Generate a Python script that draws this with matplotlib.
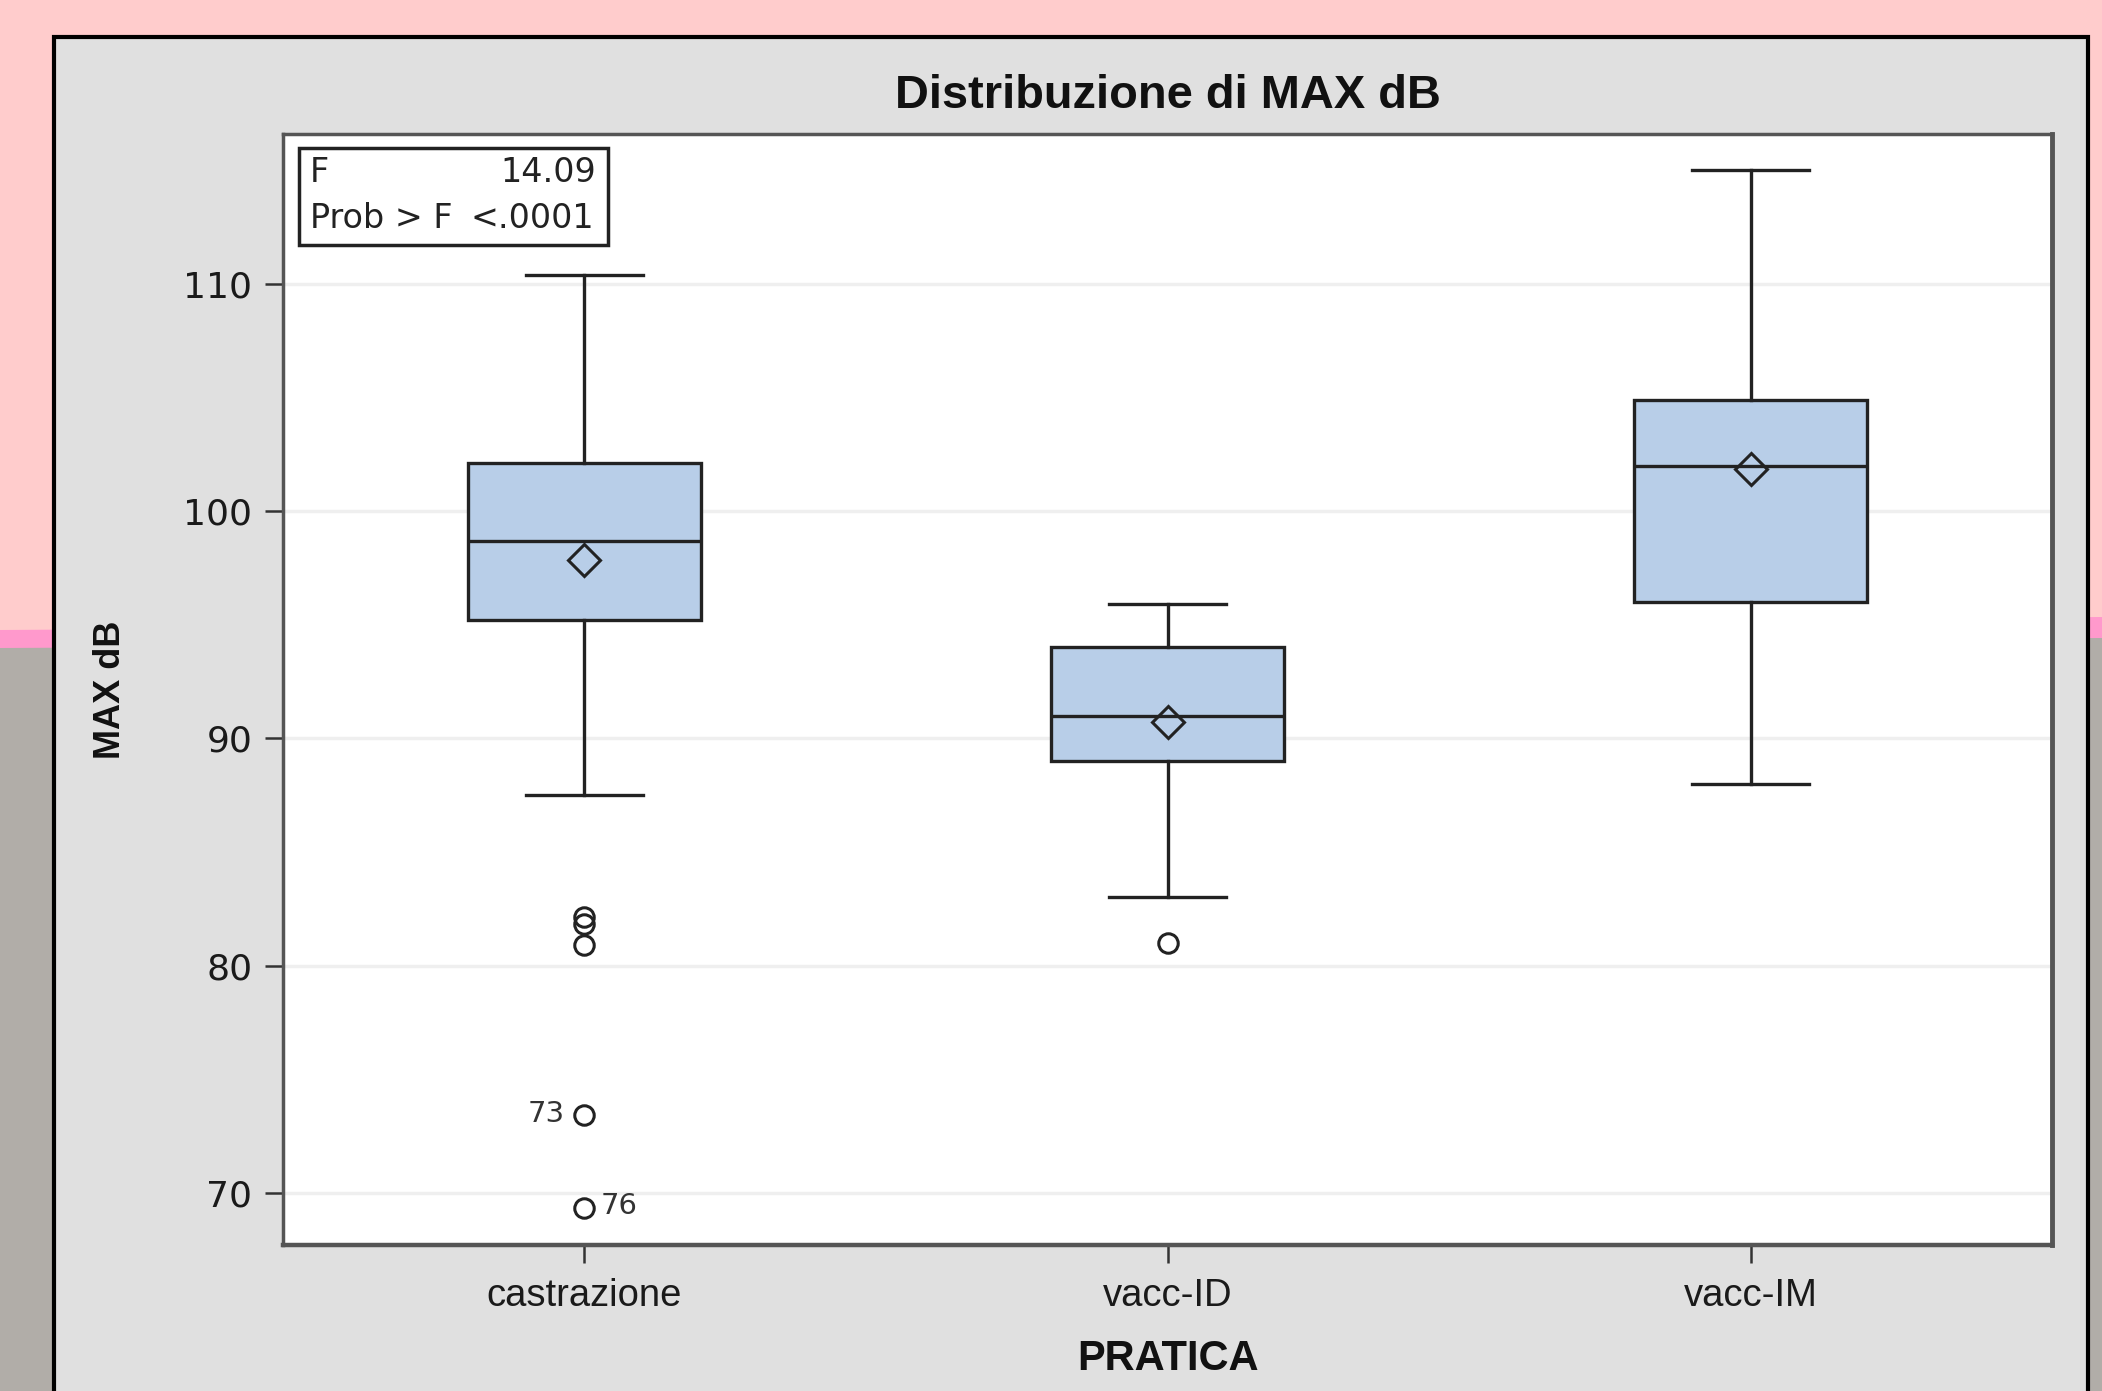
"""Box plot of MAX dB by PRATICA (SAS-style output on a slide background)."""

import matplotlib
matplotlib.use("Agg")
import matplotlib.pyplot as plt
from matplotlib.patches import Rectangle, Polygon

plt.rcParams["font.family"] = ["Liberation Sans", "DejaVu Sans"]
NUM_FONT = ["DejaVu Sans"]  # the SAS digits are wide, DejaVu fits them better

# ---- data ----
CATEGORIES = ["castrazione", "vacc-ID", "vacc-IM"]
WHIS_LO = [87.5, 83.0, 88.0]
Q1 = [95.2, 89.0, 96.0]
MEDIAN = [98.7, 91.0, 102.0]
Q3 = [102.1, 94.0, 104.9]
WHIS_HI = [110.4, 95.9, 115.0]
MEAN = [97.85, 90.7, 101.85]
OUTLIERS = [[82.15, 81.85, 80.9, 73.4, 69.35], [81.0], []]

# labelled outliers: group index, value, label, side
LABEL_GROUP = [0, 0]
LABEL_VALUE = [73.4, 69.35]
LABEL_TEXT = ["73", "76"]
LABEL_SIDE = ["left", "right"]

Y_TICKS = [70, 80, 90, 100, 110]
F_VALUE = "14.09"
P_VALUE = "<.0001"

W, H = 2102, 1391


def px(x0, y0):
    """pixel (from top-left) -> figure fraction"""
    return x0 / W, 1 - y0 / H


def main():
    fig = plt.figure(figsize=(W / 100, H / 100), dpi=100, facecolor="#FFCCCC")

    # slide background: pink stripe and grey lower region
    stripe = Polygon([px(0, 630), px(W, 617), px(W, 640), px(0, 650)],
                     closed=True, transform=fig.transFigure,
                     facecolor="#FF99CC", edgecolor="none", zorder=-3)
    grey = Polygon([px(0, 648), px(W, 638), px(W, H), px(0, H)],
                   closed=True, transform=fig.transFigure,
                   facecolor="#B1ADA8", edgecolor="none", zorder=-3)
    fig.patches.extend([stripe, grey])

    # SAS output panel
    x0, y0 = px(54, 37)
    x1, _ = px(2088, 0)
    panel = Rectangle((x0, -0.02), x1 - x0, y0 + 0.02,
                      transform=fig.transFigure, facecolor="#E0E0E0",
                      edgecolor="black", linewidth=3, zorder=-2)
    fig.patches.append(panel)

    ax = fig.add_axes([283 / W, 1 - 1245 / H, (2052 - 283) / W, (1245 - 134) / H])
    ax.set_zorder(5)
    ax.set_facecolor("white")

    stats = []
    for i, name in enumerate(CATEGORIES):
        stats.append({
            "label": name, "whislo": WHIS_LO[i], "q1": Q1[i], "med": MEDIAN[i],
            "q3": Q3[i], "whishi": WHIS_HI[i], "mean": MEAN[i],
            "fliers": OUTLIERS[i],
        })

    line = dict(color="#222222", linewidth=2.4)
    ax.bxp(stats, positions=[1, 2, 3], widths=0.4, capwidths=0.2,
           patch_artist=True, showmeans=True, showfliers=True,
           boxprops=dict(facecolor="#B8CEE8", edgecolor="#222222", linewidth=2.4),
           medianprops=line, whiskerprops=line, capprops=line,
           meanprops=dict(marker="D", markersize=16, markerfacecolor="none",
                          markeredgecolor="#222222", markeredgewidth=2.2),
           flierprops=dict(marker="o", markersize=14, markerfacecolor="none",
                           markeredgecolor="#222222", markeredgewidth=2.2),
           zorder=3)

    for g, v, t, side in zip(LABEL_GROUP, LABEL_VALUE, LABEL_TEXT, LABEL_SIDE):
        dx = -14 if side == "left" else 12
        ax.annotate(t, (g + 1, v), xytext=(dx, 1), textcoords="offset points",
                    ha="right" if side == "left" else "left", va="center",
                    fontsize=21, color="#333333", family=NUM_FONT)

    ax.set_xlim(0.483, 3.517)
    ax.set_ylim(67.7, 116.6)
    ax.set_yticks(Y_TICKS)
    ax.set_xticks([1, 2, 3])
    ax.set_xticklabels(CATEGORIES)
    ax.yaxis.grid(True, color="#EFEFEF", linewidth=2.5, zorder=0)
    ax.set_axisbelow(True)
    ax.tick_params(axis="both", direction="out", length=13, width=1.8,
                   color="#333333", labelsize=27.5, labelcolor="#1A1A1A")
    ax.tick_params(axis="y", pad=9, labelsize=26)
    ax.tick_params(axis="x", pad=11)
    for lab in ax.get_yticklabels():
        lab.set_family(NUM_FONT)
    for sp in ax.spines.values():
        sp.set_color("#555555")
        sp.set_linewidth(2.5)
    ax.spines["right"].set_linewidth(3.5)
    ax.spines["bottom"].set_linewidth(3.2)

    # title and axis labels
    ax.text(0.5, (1245 - 96) / (1245 - 134), "Distribuzione di MAX dB",
            transform=ax.transAxes, ha="center", va="center",
            fontsize=33.8, fontweight="bold", color="#111111")
    ax.set_xlabel("PRATICA", fontsize=30, fontweight="bold", color="#111111")
    ax.xaxis.set_label_coords(0.5, (1245 - 1359) / (1245 - 134))
    ax.xaxis.label.set_va("center")
    ax.set_ylabel("MAX dB", fontsize=26, fontweight="bold", color="#111111")
    ax.yaxis.set_label_coords((111 - 283) / (2052 - 283), 0.5)
    ax.yaxis.label.set_va("center")

    # statistics inset box
    box = Rectangle((0.009, 0.900), 0.175, 0.087, transform=ax.transAxes,
                    facecolor="white", edgecolor="#222222", linewidth=2.5, zorder=5)
    ax.add_patch(box)
    txt = dict(transform=ax.transAxes, va="center", fontsize=24,
               color="#222222", zorder=6, family=NUM_FONT)
    ax.text(0.015, 0.965, "F", ha="left", **txt)
    ax.text(0.177, 0.965, F_VALUE, ha="right", **txt)
    ax.text(0.015, 0.924, "Prob > F", ha="left", **txt)
    ax.text(0.176, 0.924, P_VALUE, ha="right", **txt)

    fig.savefig("out.png", dpi=100, facecolor=fig.get_facecolor())
    plt.close(fig)


if __name__ == "__main__":
    main()
